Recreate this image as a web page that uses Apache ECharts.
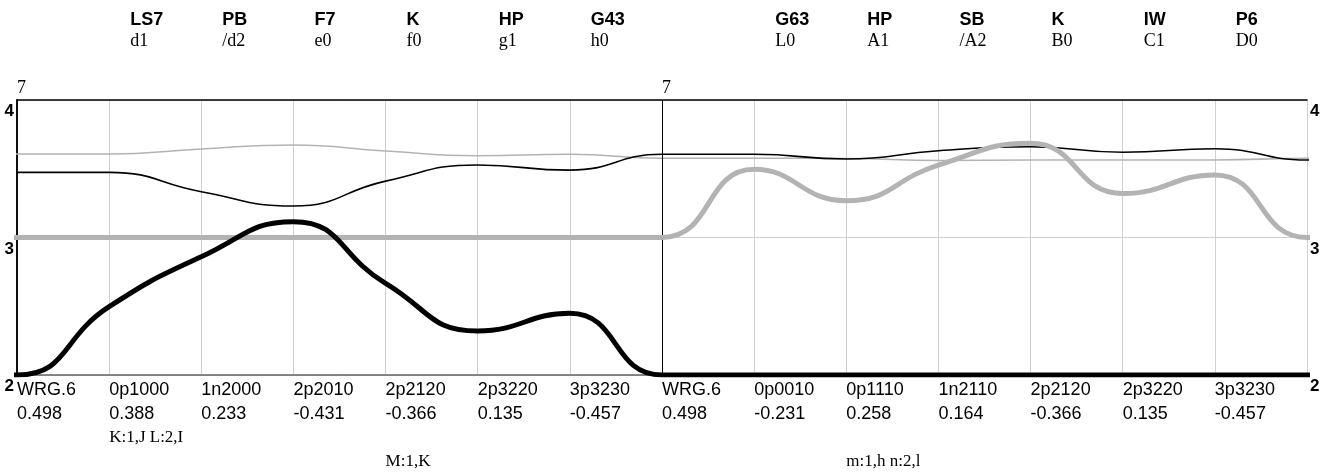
<!DOCTYPE html>
<html>
<head>
<meta charset="utf-8">
<script src="https://cdn.jsdelivr.net/npm/echarts@6/dist/echarts.min.js"></script>
<style>
html,body{margin:0;padding:0;background:#fff;}
#chart{width:1332px;height:475px;}
</style>
</head>
<body>
<div id="chart"></div>
<script>
// ---- data ----
const bottomNames  = ['WRG.6','0p1000','1n2000','2p2010','2p2120','2p3220','3p3230','WRG.6','0p0010','0p1110','1n2110','2p2120','2p3220','3p3230',''];
const bottomValues = ['0.498','0.388','0.233','-0.431','-0.366','0.135','-0.457','0.498','-0.231','0.258','0.164','-0.366','0.135','-0.457',''];
const noteLine3    = ['','K:1,J L:2,I','','','','','','','','','','','','',''];
const noteLine4    = ['','','','','M:1,K','','','','','m:1,h n:2,l','','','','',''];
const topNames     = ['','LS7','PB','F7','K','HP','G43','','G63','HP','SB','K','IW','P6',''];
const topSubs      = ['','d1','/d2','e0','f0','g1','h0','','L0','A1','/A2','B0','C1','D0',''];
const topMarks     = ['7','','','','','','','7','','','','','','',''];
const yTicks       = [2, 3, 4];

const thinGray   = [3.607,3.607,3.644,3.673,3.629,3.595,3.605,3.576,3.576,3.575,3.560,3.564,3.564,3.564,3.576];
const thinBlack  = [3.474,3.474,3.333,3.229,3.410,3.527,3.490,3.605,3.605,3.571,3.631,3.660,3.620,3.646,3.564];
const thickBlack = [2.000,2.497,2.860,3.115,2.667,2.320,2.449,2.000,2.000,2.000,2.000,2.000,2.000,2.000,2.000];
const thickGray  = [3.000,3.000,3.000,3.000,3.000,3.000,3.000,3.000,3.496,3.268,3.527,3.685,3.320,3.455,3.000];

const SANS = '"Liberation Sans", Arial, sans-serif';
const SERIF = '"Liberation Serif", "Times New Roman", serif';
const GRAY = '#b3b3b3';
const N = bottomNames.length;

const chart = echarts.init(document.getElementById('chart'), null, {renderer: 'canvas'});

// points at category positions; the end values are repeated just outside the
// (clipped) plot so the smoothed curve leaves each end horizontally
function toPoints(arr) {
  const pts = arr.map(function (v, i) { return [i, v]; });
  pts.unshift([-1, arr[0]]);
  pts.push([arr.length, arr[arr.length - 1]]);
  return pts;
}

function lineSeries(data, color, width, z) {
  return {
    type: 'line', data: toPoints(data), smooth: true, symbol: 'none', z: z, clip: true,
    lineStyle: {color: color, width: width}, silent: true, animation: false
  };
}

const series = [
  lineSeries(thinGray, GRAY, 1.6, 3),
  lineSeries(thinBlack, '#000', 1.6, 4),
  lineSeries(thickGray, GRAY, 5, 5),
  lineSeries(thickBlack, '#000', 5, 6)
];
series[0].markLine = {
  silent: true, symbol: ['none','none'], animation: false,
  label: {show: false},
  lineStyle: {color: '#000', width: 1, type: 'solid'},
  data: [{xAxis: 7}]
};

function idx(v) { return Math.round(v); }

const option = {
  animation: false,
  backgroundColor: '#fff',
  grid: {left: 17, right: 25, top: 100, bottom: 100},
  xAxis: [
    {
      type: 'value', position: 'bottom', min: 0, max: N - 1, interval: 1,
      axisLine: {show: true, lineStyle: {color: '#666', width: 1.5}},
      axisTick: {show: false},
      splitLine: {show: true, lineStyle: {color: '#d0d0d0', width: 1}},
      axisLabel: {
        showMinLabel: true, showMaxLabel: true, hideOverlap: false,
        align: 'left', margin: 3, color: '#000',
        formatter: function (v) {
          const i = idx(v);
          return '{n|' + (bottomNames[i] || ' ') + '}\n{n|' + (bottomValues[i] || ' ') + '}\n{c|' +
                 (noteLine3[i] || ' ') + '}\n{c|' + (noteLine4[i] || ' ') + '}';
        },
        rich: {
          n: {fontFamily: SANS, fontSize: 18, lineHeight: 24, color: '#000'},
          c: {fontFamily: SERIF, fontSize: 17, lineHeight: 24, color: '#000'}
        }
      }
    },
    {
      type: 'value', position: 'top', min: 0, max: N - 1, interval: 1,
      axisLine: {show: true, lineStyle: {color: '#000', width: 1.5}},
      axisTick: {show: false},
      splitLine: {show: false},
      axisLabel: {
        showMinLabel: true, showMaxLabel: true, hideOverlap: false,
        align: 'left', margin: 2, color: '#000',
        formatter: function (v) {
          const i = idx(v);
          if (topMarks[i]) return '{m|' + topMarks[i] + '}';
          if (!topNames[i]) return '';
          return '{b|' + topNames[i] + '}\n{s|' + topSubs[i] + '}\n{g| }';
        },
        rich: {
          m: {fontFamily: SERIF, fontSize: 18, lineHeight: 20, color: '#000'},
          b: {fontFamily: SANS, fontSize: 18, fontWeight: 'bold', lineHeight: 21, color: '#000', padding: [0,0,0,21]},
          s: {fontFamily: SERIF, fontSize: 18, lineHeight: 21, color: '#000', padding: [0,0,0,21]},
          g: {fontSize: 10, lineHeight: 46}
        }
      }
    }
  ],
  yAxis: [
    {
      type: 'value', position: 'left', min: yTicks[0], max: yTicks[yTicks.length-1], interval: 1,
      axisLine: {show: true, lineStyle: {color: '#000', width: 1.5}},
      axisTick: {show: false},
      splitLine: {show: true, lineStyle: {color: '#d0d0d0', width: 1}},
      axisLabel: {margin: 3, color: '#000', fontFamily: SANS, fontSize: 17, fontWeight: 'bold',
                  verticalAlign: 'top', padding: [3,0,0,0]}
    },
    {
      type: 'value', position: 'right', min: yTicks[0], max: yTicks[yTicks.length-1], interval: 1,
      axisLine: {show: true, lineStyle: {color: '#000', width: 1.5}},
      axisTick: {show: false},
      splitLine: {show: false},
      axisLabel: {margin: 3, color: '#000', fontFamily: SANS, fontSize: 17, fontWeight: 'bold',
                  verticalAlign: 'top', padding: [3,0,0,0]}
    }
  ],
  series: series
};
chart.setOption(option);
</script>
</body>
</html>
